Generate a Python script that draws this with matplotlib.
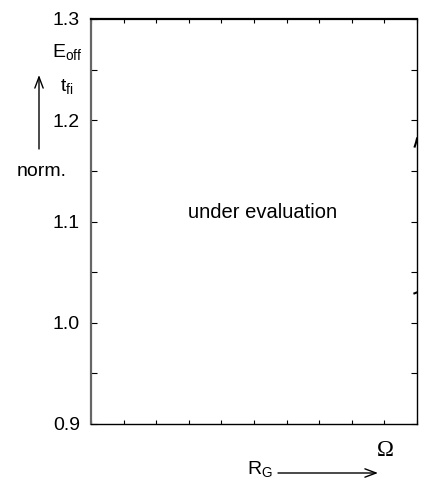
import matplotlib
matplotlib.use("Agg")
import matplotlib.pyplot as plt
from matplotlib.patches import FancyArrowPatch
from matplotlib.ticker import MultipleLocator

plt.rcParams["font.family"] = ["Liberation Sans", "DejaVu Sans"]

W, H = 427, 487

# axis setup
x_range = [0, 10]
y_range = [0.9, 1.3]
y_major = [0.9, 1.0, 1.1, 1.2, 1.3]
y_labels = ["0.9", "1.0", "1.1", "1.2", "1.3"]

# small curve fragments visible at the right edge
eoff_x = [9.93, 9.97, 10.0]
eoff_y = [1.174, 1.178, 1.182]
tfi_x = [9.92, 10.0]
tfi_y = [1.029, 1.030]


def px(x, y):
    # pixel position (from top-left) -> figure fraction
    return x / W, 1 - y / H


fig = plt.figure(figsize=(W / 100, H / 100), dpi=100)
ax = fig.add_axes([91 / W, 1 - 424 / H, (417 - 91) / W, (424 - 19) / H])
ax.set_xlim(*x_range)
ax.set_ylim(*y_range)

ax.plot(eoff_x, eoff_y, color="black", lw=1.5)
ax.plot(tfi_x, tfi_y, color="black", lw=1.5)

ax.set_yticks(y_major)
ax.set_yticklabels(y_labels, fontsize=14)
ax.yaxis.set_minor_locator(MultipleLocator(0.05))
ax.xaxis.set_major_locator(MultipleLocator(1))
ax.set_xticklabels([])
ax.tick_params(axis="both", which="both", direction="in", length=4, width=0.8,
               top=True, right=True, colors="black")
ax.tick_params(axis="y", which="major", pad=8)
ax.tick_params(axis="x", which="both", length=3)

ax.spines["left"].set_color("#666666")
ax.spines["left"].set_linewidth(1.6)
ax.spines["top"].set_linewidth(1.6)
ax.spines["bottom"].set_linewidth(1)
ax.spines["right"].set_linewidth(1)

fig.text(*px(263, 213), "under evaluation", ha="center", va="center", fontsize=14.5)

arrow = "->,head_length=8,head_width=3"

# y axis annotation
fig.text(*px(67, 58), "E$_{\\mathregular{off}}$", ha="center", va="baseline", fontsize=14)
fig.text(*px(67, 92), "t$_{\\mathregular{fi}}$", ha="center", va="baseline", fontsize=14)
fig.text(*px(42, 172), "norm.", ha="center", va="center", fontsize=14)
fig.add_artist(FancyArrowPatch(px(39, 149), px(39, 75), transform=fig.transFigure,
                               arrowstyle=arrow, color="black", lw=1,
                               shrinkA=0, shrinkB=0))

# x axis annotation
fig.text(*px(385, 451), "\u03a9", ha="center", va="center", fontsize=16.5,
         family=["Liberation Serif", "DejaVu Serif"])
fig.text(*px(247, 475), "R$_{\\mathregular{G}}$", ha="left", va="baseline", fontsize=14)
fig.add_artist(FancyArrowPatch(px(278, 473), px(378, 473), transform=fig.transFigure,
                               arrowstyle=arrow, color="black", lw=1,
                               shrinkA=0, shrinkB=0))

fig.savefig("out.png", dpi=100)
